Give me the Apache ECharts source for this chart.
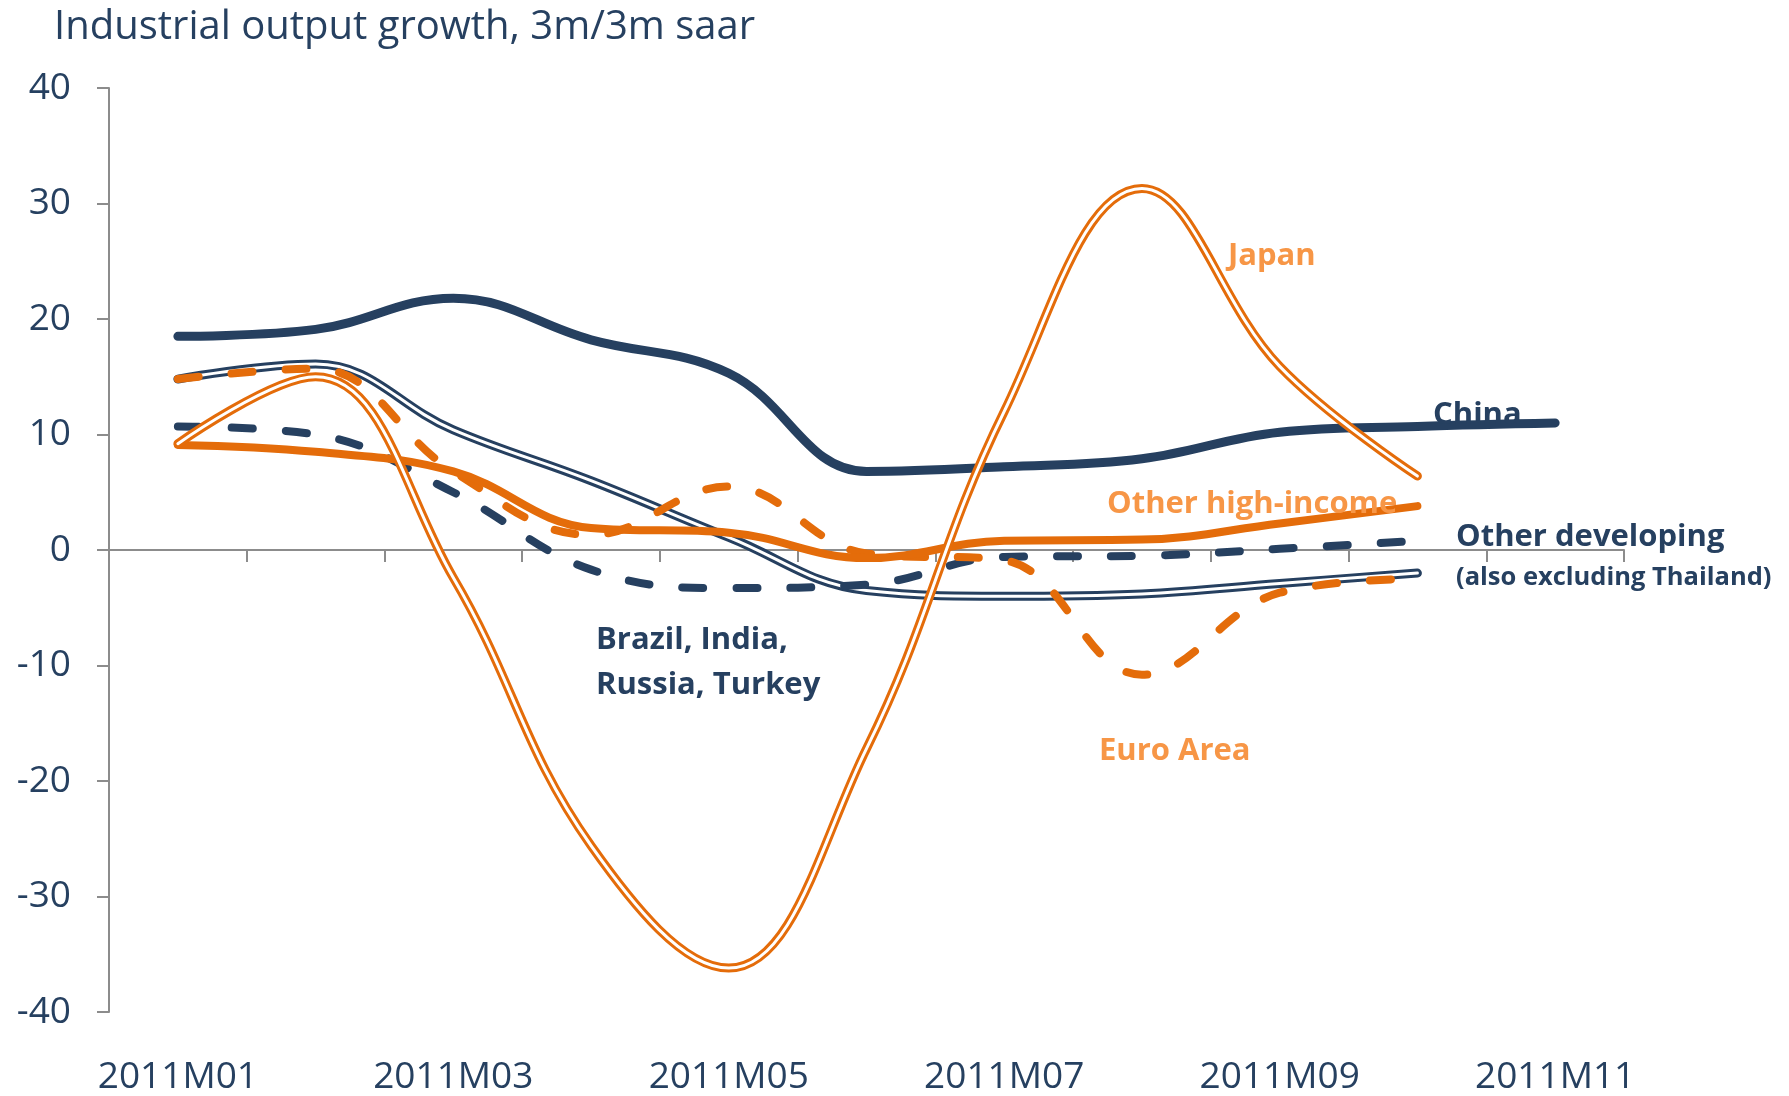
<!DOCTYPE html>
<html>
<head>
<meta charset="utf-8">
<script src="https://cdn.jsdelivr.net/npm/echarts@6/dist/echarts.min.js"></script>
<style>
html,body{margin:0;padding:0;background:#fff;}
#chart{width:1789px;height:1096px;}
</style>
</head>
<body>
<div id="chart"></div>
<script>
const months = ['2011M01','2011M02','2011M03','2011M04','2011M05','2011M06','2011M07','2011M08','2011M09','2011M10','2011M11'];
const china = [18.5, 19.1, 21.8, 18.2, 15.3, 6.8, 7.2, 7.9, 10.2, 10.7, 11.0];
const birt = [14.8, 16.1, 10.4, 6.0, 1.1, -3.5, -4.0, -3.8, -2.9, -2.0];
const otherDev = [10.7, 10.0, 5.0, -1.7, -3.3, -3.0, -0.6, -0.5, 0.1, 0.8];
const japan = [9.2, 15.0, -2.4, -25.6, -36.2, -17.2, 12.0, 31.3, 15.9, 6.4];
const otherHigh = [9.1, 8.5, 6.8, 1.9, 1.5, -0.7, 0.8, 0.9, 2.3, 3.8];
const euro = [14.8, 15.7, 6.8, 1.3, 5.5, -0.3, -0.9, -10.8, -3.7, -2.5];

const NAVY = '#264060';
const ORANGE = '#E46C0A';
const LORANGE = '#F79646';
const FONT = "'Open Sans', sans-serif";
const SM = 0.4;

function solid(name, data, color, width, z) {
  return {name, type:'line', data, smooth:SM, showSymbol:false, z,
    lineStyle:{color, width, cap:'round', join:'round'}};
}
function dashed(name, data, color, width, z) {
  return {name, type:'line', data, smooth:SM, showSymbol:false, z,
    lineStyle:{color, width, type:[21,33], cap:'round', join:'round'}};
}
function dbl(name, data, color, z) {
  return [
    {name, type:'line', data, smooth:SM, showSymbol:false, z,
      lineStyle:{color, width:9, cap:'round', join:'round'}},
    {name:name+' inner', type:'line', data, smooth:SM, showSymbol:false, z:z+0.5,
      lineStyle:{color:'#ffffff', width:3, cap:'round', join:'round'}}
  ];
}

const chart = echarts.init(document.getElementById('chart'));
chart.setOption({
  backgroundColor:'#ffffff',
  animation:false,
  grid:{left:109, right:165, top:88, bottom:81},
  xAxis:[
    {type:'category', data:months, boundaryGap:true,
      axisLine:{onZero:true, lineStyle:{color:'#8c8c8c', width:2}},
      axisTick:{show:true, interval:0, length:12, lineStyle:{color:'#8c8c8c', width:2}},
      axisLabel:{show:false}, splitLine:{show:false}},
    {type:'category', data:months, boundaryGap:true, position:'bottom',
      axisLine:{show:false, onZero:false}, axisTick:{show:false},
      axisLabel:{interval:1, margin:47, color:NAVY, fontSize:37, fontFamily:FONT}}
  ],
  yAxis:{type:'value', min:-40, max:40, interval:10,
    axisLine:{show:true, lineStyle:{color:'#8c8c8c', width:2}},
    axisTick:{show:true, length:12, lineStyle:{color:'#8c8c8c', width:2}},
    splitLine:{show:false},
    axisLabel:{margin:38, color:NAVY, fontSize:37, fontFamily:FONT}},
  series:[
    solid('China', china, NAVY, 9, 2),
    ...dbl('Brazil, India, Russia, Turkey', birt, NAVY, 3),
    dashed('Other developing', otherDev, NAVY, 8, 4),
    dashed('Euro Area', euro, ORANGE, 8, 5),
    solid('Other high-income', otherHigh, ORANGE, 8, 6),
    ...dbl('Japan', japan, ORANGE, 7)
  ],
  graphic:[
    {type:'text', left:54, top:8, z:100, style:{text:'Industrial output growth, 3m/3m saar', fill:NAVY, font:"40px 'Open Sans', sans-serif"}},
    {type:'text', x:1228, y:256, z:100, style:{text:'Japan', fill:LORANGE, font:"bold 31px 'Open Sans', sans-serif", textVerticalAlign:'middle'}},
    {type:'text', x:1433, y:415, z:100, style:{text:'China', fill:NAVY, font:"bold 31px 'Open Sans', sans-serif", textVerticalAlign:'middle'}},
    {type:'text', x:1107, y:504, z:100, style:{text:'Other high-income', fill:LORANGE, font:"bold 31px 'Open Sans', sans-serif", textVerticalAlign:'middle'}},
    {type:'text', x:1456, y:537, z:100, style:{text:'Other developing', fill:NAVY, font:"bold 31px 'Open Sans', sans-serif", textVerticalAlign:'middle'}},
    {type:'text', x:1456, y:578, z:100, style:{text:'(also excluding Thailand)', fill:NAVY, font:"bold 25.5px 'Open Sans', sans-serif", textVerticalAlign:'middle'}},
    {type:'text', x:596, y:640, z:100, style:{text:'Brazil, India,', fill:NAVY, font:"bold 31px 'Open Sans', sans-serif", textVerticalAlign:'middle'}},
    {type:'text', x:596, y:685, z:100, style:{text:'Russia, Turkey', fill:NAVY, font:"bold 31px 'Open Sans', sans-serif", textVerticalAlign:'middle'}},
    {type:'text', x:1099, y:751, z:100, style:{text:'Euro Area', fill:LORANGE, font:"bold 31px 'Open Sans', sans-serif", textVerticalAlign:'middle'}}
  ]
});
</script>
</body>
</html>
